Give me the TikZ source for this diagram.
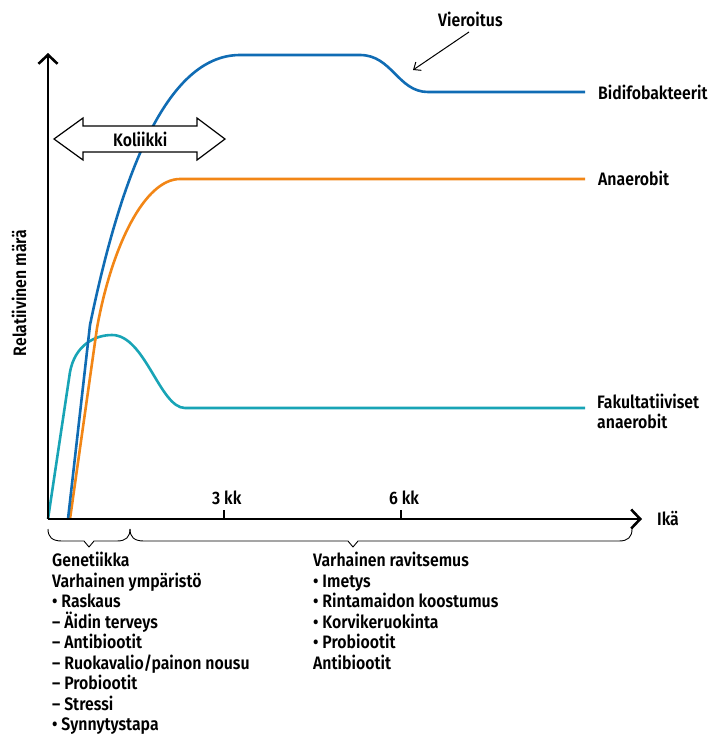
\documentclass[tikz,border=0pt]{standalone}
\usepackage{fontspec}
\setmainfont{Fira Sans SemiBold}[FakeStretch=0.88]
\usetikzlibrary{arrows.meta}
\definecolor{cblue}{RGB}{16,108,180}
\definecolor{corange}{RGB}{242,134,22}
\definecolor{cteal}{RGB}{24,164,182}
\begin{document}
\begin{tikzpicture}[x=1pt,y=-1pt,
  lbl/.style={anchor=base west,inner sep=0pt,font=\fontsize{18}{20}\selectfont},
  axisline/.style={line width=2.6pt,-{Straight Barb[length=9pt,width=19pt]}},
  curve/.style={line width=2.6pt,line join=round},
  bracepath/.style={line width=0.9pt,line join=round},
  tick/.style={line width=2.2pt},
  kolarrow/.style={draw=black,fill=white,line width=1.2pt,line join=miter},
  pointer/.style={line width=1pt,-{Straight Barb[length=6pt,width=10pt]}}
]
\useasboundingbox (0,0) rectangle (712,734);

% curves
\draw[curve,cteal] (48,519) -- (70,372) .. controls (75,345) and (95,335) .. (112,335)
  .. controls (145,335) and (160,408) .. (185,408) -- (585,408);
\draw[curve,corange] (70,519) -- (97,328) .. controls (112,245) and (145,179) .. (180,179) -- (585,179);
\draw[curve,cblue] (68,519) -- (90,325) .. controls (120,180) and (165,55) .. (240,55) -- (360,55)
  .. controls (392,55) and (398,92) .. (428,92) -- (585,92);

% Koliikki double arrow
\draw[kolarrow] (54,139) -- (83,118) -- (83,126) -- (197,126) -- (197,118) -- (225,139)
  -- (197,160) -- (197,152) -- (83,152) -- (83,160) -- cycle;
\node[lbl] (kol) at (113,146) {Koliikki};

% axes
\coordinate (O) at (48,519);
\coordinate (ytop) at (48,53);
\coordinate (xend) at (642,519);
\draw[axisline] (O) -- (ytop);
\draw[axisline] (O) -- (xend);
\coordinate (t3) at (224,519);
\coordinate (t3b) at (224,510);
\coordinate (t6) at (401,519);
\coordinate (t6b) at (401,510);
\draw[tick] (t3) -- (t3b);
\draw[tick] (t6) -- (t6b);
\node[lbl] (l3) at (212,504) {3 kk};
\node[lbl] (l6) at (389,504) {6 kk};
\node[lbl] (ika) at (657,525) {Ikä};
\node[lbl,anchor=base,rotate=90] (ylab) at (26,293) {Relatiivinen märä};

% series labels
\node[lbl] (bif) at (598,99) {Bidifobakteerit};
\node[lbl] (ana) at (598,185) {Anaerobit};
\node[lbl] (fak1) at (597,408) {Fakultatiiviset};
\node[lbl] (fak2) at (597,428) {anaerobit};

% Vieroitus
\node[lbl] (vier) at (438,26) {Vieroitus};
\coordinate (vs) at (469,32);
\coordinate (ve) at (413,70);
\draw[pointer] (vs) -- (ve);

% braces
\draw[bracepath] (48,529) .. controls (48,537) and (52,541) .. (62,541) -- (84,541) -- (89,547)
  -- (94,541) -- (117,541) .. controls (126,541) and (130,537) .. (130,529);
\draw[bracepath] (130,529) .. controls (130,537) and (134,541) .. (144,541) -- (348,541) -- (353,547)
  -- (358,541) -- (619,541) .. controls (628,541) and (632,537) .. (632,529);

% lists
\foreach [count=\i from 0] \t in {{Genetiikka},{Varhainen ympäristö},{• Raskaus},{– Äidin terveys},{– Antibiootit},{– Ruokavalio/painon nousu},{– Probiootit},{– Stressi},{• Synnytystapa}}
  \node[lbl] (left\i) at (52,{566.5+20.5*\i}) {\t};
\foreach [count=\i from 0] \t in {{Varhainen ravitsemus},{• Imetys},{• Rintamaidon koostumus},{• Korvikeruokinta},{• Probiootit},{Antibiootit}}
  \node[lbl] (right\i) at (313,{566.5+20.5*\i}) {\t};
\end{tikzpicture}
\end{document}
